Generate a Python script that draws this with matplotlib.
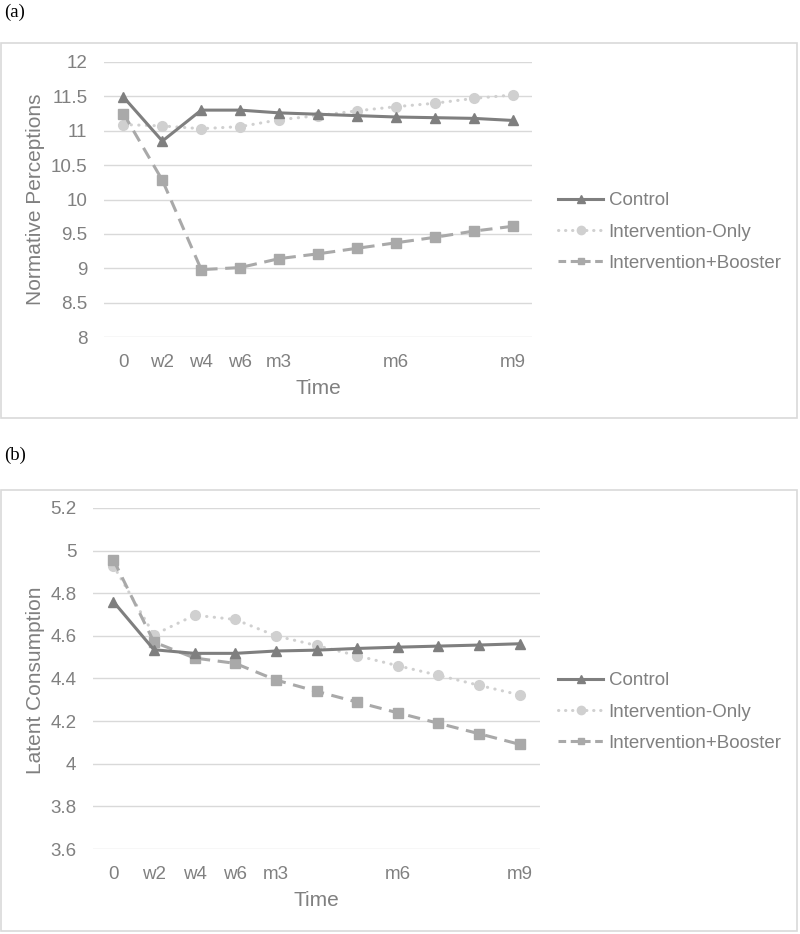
import matplotlib
matplotlib.use("Agg")
import matplotlib.pyplot as plt
from matplotlib.patches import Rectangle
from matplotlib.lines import Line2D

plt.rcParams['font.family'] = ['Liberation Sans Narrow', 'Liberation Sans', 'DejaVu Sans']

# ---------------- data ----------------
time_labels = ['0', 'w2', 'w4', 'w6', 'm3', '', '', 'm6', '', '', 'm9']

# (a) normative perceptions
np_control = [11.49, 10.85, 11.30, 11.30, 11.26, 11.24, 11.22, 11.20, 11.19, 11.18, 11.15]
np_interv  = [11.09, 11.07, 11.03, 11.06, 11.16, 11.22, 11.29, 11.35, 11.40, 11.47, 11.52]
np_booster = [11.25, 10.28, 8.98, 9.01, 9.14, 9.21, 9.29, 9.37, 9.45, 9.54, 9.61]

# (b) latent consumption
lc_control = [4.761, 4.535, 4.518, 4.518, 4.529, 4.533, 4.541, 4.547, 4.552, 4.557, 4.563]
lc_interv  = [4.930, 4.605, 4.697, 4.677, 4.600, 4.555, 4.507, 4.460, 4.415, 4.368, 4.323]
lc_booster = [4.958, 4.571, 4.496, 4.471, 4.393, 4.340, 4.289, 4.239, 4.190, 4.141, 4.091]

series_names = ['Control', 'Intervention-Only', 'Intervention+Booster']

C_CTRL = '#7f7f7f'
C_INT = '#d0d0d0'
C_BOOST = '#a9a9a9'
TXT = '#808080'
GRID = '#d9d9d9'

W, H = 800, 934
fig = plt.figure(figsize=(W / 100, H / 100), dpi=100)


def px_axes(left, top, right, bottom):
    return fig.add_axes([left / W, 1 - bottom / H, (right - left) / W, (bottom - top) / H])


def frame(top, bottom):
    fig.patches.append(Rectangle((1 / W, 1 - bottom / H), 796 / W, (bottom - top) / H,
                                 transform=fig.transFigure, fill=False,
                                 edgecolor=GRID, lw=1.2))


def panel(ax, ctrl, interv, boost, ylim, step, ylabel, ylab_y, leg_y):
    x = list(range(len(time_labels)))
    ax.plot(x, ctrl, color=C_CTRL, lw=2.2, marker='^', ms=7.5, zorder=3,
            solid_joinstyle='round')
    ax.plot(x, interv, color=C_INT, lw=2.2, ls=(0, (0.1, 2.4)), dash_capstyle='round',
            marker='o', ms=7, zorder=2)
    ax.plot(x, boost, color=C_BOOST, lw=2.2, ls=(0, (4, 2.5)), marker='s', ms=6.5, zorder=2)

    ax.set_xlim(-0.5, len(x) - 0.5)
    ax.set_ylim(*ylim)
    ticks = []
    v = ylim[0]
    while v <= ylim[1] + 1e-9:
        ticks.append(round(v, 2))
        v += step
    ax.set_yticks(ticks)
    ax.set_yticklabels([('%g' % t) for t in ticks])
    ax.set_xticks(x)
    ax.set_xticklabels(time_labels)
    ax.grid(axis='y', color=GRID, lw=1)
    ax.set_axisbelow(True)
    for s in ax.spines.values():
        s.set_visible(False)
    ax.tick_params(length=0, labelsize=13.5, labelcolor=TXT)
    ax.tick_params(axis='y', pad=12)
    ax.tick_params(axis='x', pad=12)
    ax.set_xlabel('Time', fontsize=15, color=TXT, labelpad=6)

    fig.text(36 / W, 1 - ylab_y / H, ylabel, rotation=90, ha='center', va='center',
             fontsize=15, color=TXT)

    handles = [
        Line2D([], [], color=C_CTRL, lw=2.2, marker='^', ms=6),
        Line2D([], [], color=C_INT, lw=2.2, ls=(0, (0.1, 2.2)), dash_capstyle='round',
               marker='o', ms=6),
        Line2D([], [], color=C_BOOST, lw=2.2, ls=(0, (2.5, 1.5)), marker='s', ms=5),
    ]
    fig.legend(handles, series_names, loc='center left',
               bbox_to_anchor=(558 / W, 1 - leg_y / H), frameon=False,
               fontsize=13.5, labelcolor=TXT, handlelength=2.4, handletextpad=0.3,
               labelspacing=0.75, borderpad=0, borderaxespad=0)


# ---------------- panel (a) ----------------
fig.text(4 / W, 1 - 12 / H, '(a)', fontsize=13.5, family='Liberation Serif',
         ha='left', va='center')
frame(43, 418)
ax1 = px_axes(104, 62, 532, 337)
panel(ax1, np_control, np_interv, np_booster, (8, 12), 0.5,
      'Normative Perceptions', 199, 232)

# ---------------- panel (b) ----------------
fig.text(4 / W, 1 - 455 / H, '(b)', fontsize=13.5, family='Liberation Serif',
         ha='left', va='center')
frame(490, 931)
ax2 = px_axes(93, 508, 540, 849)
panel(ax2, lc_control, lc_interv, lc_booster, (3.6, 5.2), 0.2,
      'Latent Consumption', 680, 712)

fig.savefig('out.png', dpi=100)
